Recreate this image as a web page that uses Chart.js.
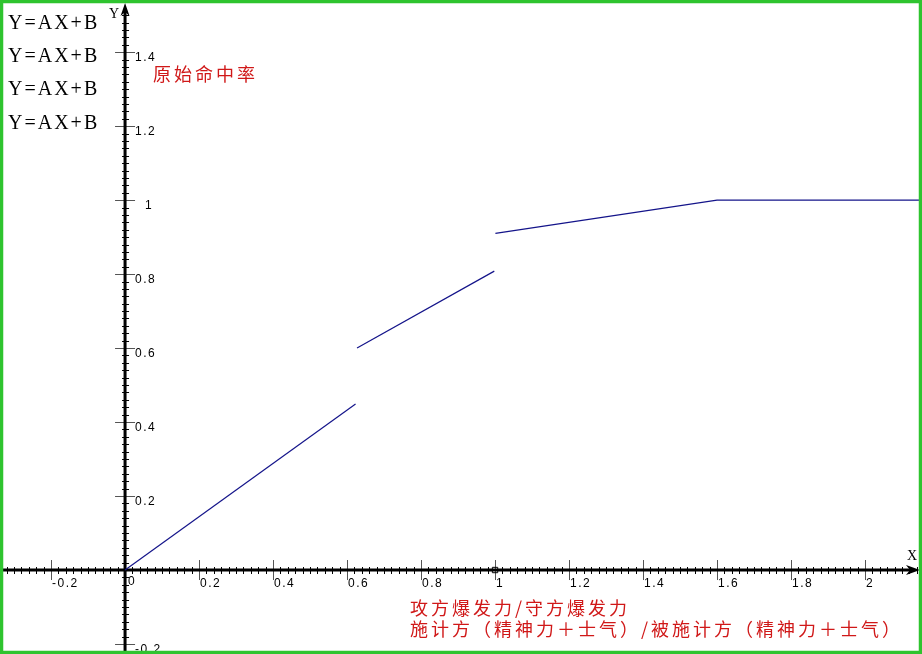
<!DOCTYPE html>
<html lang="zh-CN">
<head>
<meta charset="utf-8">
<title>原始命中率</title>
<script src="https://cdn.jsdelivr.net/npm/chart.js@4.4.1/dist/chart.umd.min.js"></script>
<style>
  html, body { margin: 0; padding: 0; background: #fff; }
  #wrap { width: 922px; height: 654px; }
</style>
</head>
<body>
<div id="wrap"><canvas id="chart" width="922" height="654"></canvas></div>
<script>
// piecewise line, one array pair per segment
const seg1X = [0, 0.623];
const seg1Y = [0, 0.449];
const seg2X = [0.627, 0.998];
const seg2Y = [0.600, 0.808];
const seg3X = [1.001, 1.6, 2.16];
const seg3Y = [0.910, 1.0, 1.0];
const markerX = [1];
const markerY = [0];

const xTicks = [-0.2, 0.2, 0.4, 0.6, 0.8, 1, 1.2, 1.4, 1.6, 1.8, 2];
const xTickLabels = ['-0.2', '0.2', '0.4', '0.6', '0.8', '1', '1.2', '1.4', '1.6', '1.8', '2'];
const yTicks = [-0.2, 0.2, 0.4, 0.6, 0.8, 1, 1.2, 1.4];
const yTickLabels = ['-0.2', '0.2', '0.4', '0.6', '0.8', '1', '1.2', '1.4'];

const formulaLabels = ['Y=AX+B', 'Y=AX+B', 'Y=AX+B', 'Y=AX+B'];
const chartTitle = '原始命中率';
const xTitleLines = ['攻方爆发力/守方爆发力', '施计方（精神力＋士气）/被施计方（精神力＋士气）'];

const LINE_COLOR = '#14148a';
const RED = '#d01818';
const tickFont = '12px "Liberation Sans", Arial, sans-serif';
const cjkFont = '18px "Noto Sans CJK SC", sans-serif';

function toPoints(xs, ys) {
  return xs.map((v, i) => ({ x: v, y: ys[i] }));
}

function segment(xs, ys) {
  return {
    data: toPoints(xs, ys),
    showLine: true,
    borderColor: LINE_COLOR,
    borderWidth: 1.2,
    pointRadius: 0,
    tension: 0
  };
}

// axes cross at the origin, so they are drawn by hand from the scales
const crossAxes = {
  id: 'crossAxes',
  beforeDatasetsDraw(chart) {
    const { ctx, scales: { x, y } } = chart;
    const ox = x.getPixelForValue(0);
    const oy = y.getPixelForValue(0);
    ctx.save();

    // minor ticks every 0.02
    ctx.strokeStyle = '#000';
    ctx.lineWidth = 1;
    ctx.beginPath();
    for (let i = -16; i <= 107; i++) {
      if (i % 10 === 0) continue;
      const px = Math.round(x.getPixelForValue(i * 0.02)) + 0.5;
      ctx.moveTo(px, oy - 3);
      ctx.lineTo(px, oy + 4);
    }
    for (let i = -11; i <= 75; i++) {
      if (i % 10 === 0) continue;
      const py = Math.round(y.getPixelForValue(i * 0.02)) + 0.5;
      ctx.moveTo(ox - 3, py);
      ctx.lineTo(ox + 4, py);
    }
    ctx.stroke();

    // major ticks
    ctx.strokeStyle = '#555';
    ctx.beginPath();
    xTicks.forEach(v => {
      const px = Math.round(x.getPixelForValue(v)) + 0.5;
      ctx.moveTo(px, oy - 10);
      ctx.lineTo(px, oy + 10);
    });
    yTicks.forEach(v => {
      const py = Math.round(y.getPixelForValue(v)) + 0.5;
      ctx.moveTo(ox - 10, py);
      ctx.lineTo(ox + 10, py);
    });
    ctx.stroke();

    // axis lines
    ctx.strokeStyle = '#000';
    ctx.lineWidth = 3;
    ctx.beginPath();
    ctx.moveTo(3, oy);
    ctx.lineTo(912, oy);
    ctx.moveTo(ox, 651);
    ctx.lineTo(ox, 10);
    ctx.stroke();

    // arrow heads
    ctx.fillStyle = '#000';
    ctx.beginPath();
    ctx.moveTo(920, oy);
    ctx.lineTo(906, oy - 5);
    ctx.lineTo(910, oy);
    ctx.lineTo(906, oy + 5);
    ctx.closePath();
    ctx.fill();
    ctx.beginPath();
    ctx.moveTo(ox, 3);
    ctx.lineTo(ox - 4.5, 16);
    ctx.lineTo(ox, 12);
    ctx.lineTo(ox + 4.5, 16);
    ctx.closePath();
    ctx.fill();

    // tick labels
    ctx.font = tickFont;
    ctx.letterSpacing = '1.5px';
    ctx.fillStyle = '#000';
    ctx.textBaseline = 'middle';
    ctx.textAlign = 'left';
    xTicks.forEach((v, i) => {
      ctx.fillText(xTickLabels[i], Math.round(x.getPixelForValue(v)) + 1, oy + 14);
    });
    ctx.fillText('0', ox + 3, oy + 12);
    yTicks.forEach((v, i) => {
      const py = y.getPixelForValue(v) + 6;
      const label = yTickLabels[i];
      if (label.includes('.')) {
        ctx.textAlign = 'left';
        ctx.fillText(label, ox + 10, py);
      } else {
        ctx.textAlign = 'right';
        ctx.fillText(label, ox + 28, py);
      }
    });

    // axis names
    ctx.letterSpacing = '0px';
    ctx.font = '14px "Liberation Serif", serif';
    ctx.textAlign = 'center';
    ctx.fillText('Y', ox - 11, 14);
    ctx.fillText('X', 912, 556);
    ctx.restore();
  },
  afterDraw(chart) {
    const { ctx } = chart;
    ctx.save();
    ctx.textBaseline = 'middle';
    ctx.textAlign = 'left';

    ctx.font = '20px "Liberation Serif", serif';
    ctx.letterSpacing = '2px';
    ctx.fillStyle = '#000';
    const rowY = [24, 57, 90, 124];
    formulaLabels.forEach((t, i) => ctx.fillText(t, 8, rowY[i]));

    ctx.font = cjkFont;
    ctx.letterSpacing = '3px';
    ctx.fillStyle = RED;
    ctx.fillText(chartTitle, 153, 74);
    ctx.fillText(xTitleLines[0], 410, 608);
    ctx.fillText(xTitleLines[1], 410, 629);

    // green frame
    ctx.letterSpacing = '0px';
    ctx.strokeStyle = '#2fc42f';
    ctx.lineWidth = 3.5;
    ctx.strokeRect(1.5, 1.5, 919, 651);
    ctx.restore();
  }
};

new Chart(document.getElementById('chart'), {
  type: 'scatter',
  data: {
    datasets: [
      segment(seg1X, seg1Y),
      segment(seg2X, seg2Y),
      segment(seg3X, seg3Y),
      {
        data: toPoints(markerX, markerY),
        showLine: false,
        pointStyle: 'rect',
        pointRadius: 3.8,
        borderColor: '#000',
        borderWidth: 1,
        backgroundColor: 'rgba(0,0,0,0)'
      }
    ]
  },
  options: {
    responsive: false,
    animation: false,
    layout: { padding: 0, autoPadding: false },
    plugins: { legend: { display: false }, tooltip: { enabled: false } },
    scales: {
      x: { type: 'linear', min: -0.338, max: 2.154, display: false },
      y: { type: 'linear', min: -0.227, max: 1.541, display: false }
    }
  },
  plugins: [crossAxes]
});
</script>
</body>
</html>
